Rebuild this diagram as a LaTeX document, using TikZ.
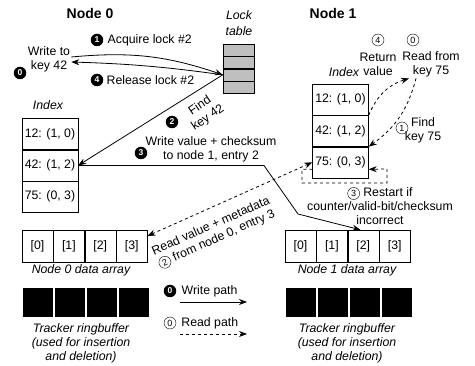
\documentclass[tikz,border=0pt]{standalone}
\usepackage{fontspec}
\setmainfont{Liberation Sans}
\usetikzlibrary{
	positioning,
	arrows.meta
}

% small outlined number inside a line of text
\newcommand\circnum[1]{\tikz[baseline=(cn.base)]\node[circle, draw, inner sep=0pt, minimum size=12pt, font=\fontsize{9}{9}\selectfont] (cn) {#1};}

\begin{document}
\begin{tikzpicture}[
	x=1pt, y=1pt,
	node distance =0pt,
	every node/.style = {inner sep=1pt, font=\fontsize{12.3}{14}\selectfont},
	title/.style = {font=\fontsize{14}{16}\selectfont\bfseries},
	note/.style = {align=center},
	lbl/.style = {align=center, font=\fontsize{12.3}{14}\selectfont\itshape},
	idxbox/.style = {
		rectangle,
		draw,
		minimum width=56pt,
		minimum height=31pt
	},
	cell/.style = {rectangle, draw, minimum width=31pt, minimum height=32pt},
	lockcell/.style = {rectangle, draw, fill=black!25, minimum width=31pt, minimum height=12pt},
	ringcell/.style = {rectangle, draw=white, line width=1pt, fill=black, minimum width=31pt, minimum height=30pt},
	wnum/.style = {circle, fill=black, text=white, inner sep=0pt, minimum size=12.5pt, font=\fontsize{8.5}{8.5}\selectfont\bfseries},
	rnum/.style = {circle, draw, inner sep=0pt, minimum size=12pt, font=\fontsize{9}{9}\selectfont},
	wline/.style = {line width=0.8pt, -{Stealth[length=8pt,width=6pt]}},
	rline/.style = {wline, dashed},
]
	\useasboundingbox (0,0) rectangle (475,-366);

	\node (node0) [title] at (90,-13) {Node 0};
	\node (node1) [title] at (333,-13) {Node 1};

	% lock table
	\node (locklbl) [lbl] at (239,-23) {Lock\\[2pt]table};
	\node (lock1) [lockcell] at (238.5,-50) {};
	\node (lock2) [lockcell, below=of lock1] {};
	\node (lock3) [lockcell, below=of lock2] {};
	\node (lock4) [lockcell, below=of lock3] {};

	% node 0 index
	\node (idx0lbl) [lbl] at (48,-105) {Index};
	\node (idx0a) [idxbox] at (50,-134) {12: (1, 0)};
	\node (idx0b) [idxbox, below=of idx0a] {42: (1, 2)};
	\node (idx0c) [idxbox, below=of idx0b] {75: (0, 3)};

	% node 1 index
	\node (idx1lbl) [lbl] at (344,-72) {Index};
	\node (idx1a) [idxbox] at (340.5,-99.5) {12: (1, 0)};
	\node (idx1b) [idxbox, below=of idx1a] {42: (1, 2)};
	\node (idx1c) [idxbox, below=of idx1b] {75: (0, 3)};

	% data arrays
	\node (arr0a) [cell] at (37.5,-246) {[0]};
	\node (arr0b) [cell, right=of arr0a] {[1]};
	\node (arr0c) [cell, right=of arr0b] {[2]};
	\node (arr0d) [cell, right=of arr0c] {[3]};
	\node (arr0lbl) [lbl] at (81,-270) {Node 0 data array};

	\node (arr1a) [cell] at (300.5,-246) {[0]};
	\node (arr1b) [cell, right=of arr1a] {[1]};
	\node (arr1c) [cell, right=of arr1b] {[2]};
	\node (arr1d) [cell, right=of arr1c] {[3]};
	\node (arr1lbl) [lbl] at (347,-270) {Node 1 data array};

	% tracker ringbuffers
	\node (ring0a) [ringcell] at (37.5,-303) {};
	\node (ring0b) [ringcell, right=of ring0a] {};
	\node (ring0c) [ringcell, right=of ring0b] {};
	\node (ring0d) [ringcell, right=of ring0c] {};
	\node (ring0lbl) [lbl] at (81,-343) {Tracker ringbuffer\\(used for insertion\\and deletion)};

	\node (ring1a) [ringcell] at (300.5,-303) {};
	\node (ring1b) [ringcell, right=of ring1a] {};
	\node (ring1c) [ringcell, right=of ring1b] {};
	\node (ring1d) [ringcell, right=of ring1c] {};
	\node (ring1lbl) [lbl] at (347,-343) {Tracker ringbuffer\\(used for insertion\\and deletion)};

	% write path
	\node (write) [note] at (49,-59) {Write to\\key 42};
	\node (w0) [wnum] at (20,-73) {0};
	\node (w1) [wnum] at (97,-40) {1};
	\node (acquire) [right=3pt of w1] {Acquire lock \#2};
	\node (w4) [wnum] at (97,-80) {4};
	\node (release) [right=2pt of w4] {Release lock \#2};

	\draw[wline] ([yshift=2pt]write.east) to[bend left=12] (lock3.west);
	\draw[wline] (lock3.west) to[bend right=3] ([yshift=-3pt]write.east);

	\draw[wline] (lock3.west) -- (idx0b.east);
	\node (find42) [note, rotate=34] at (204,-112) {Find\\key 42};
	\node (w2) [wnum] at (172,-122) {2};

	\coordinate (wb1) at (264,-165.5);
	\coordinate (wb2) at (298,-214);
	\draw[wline] (idx0b.east) -- (wb1) -- (wb2) -- (arr1c.100);
	\node (w3) [wnum] at (141,-153) {3};
	\node (wrval) [note] at (211,-149.5) {Write value + checksum\\to node 1, entry 2};

	% read path
	\node (r4) [rnum] at (378,-40) {4};
	\node (retval) [note] at (378,-64.5) {Return\\value};
	\node (r0) [rnum] at (413,-40) {0};
	\node (readfrom) [note] at (431,-64.5) {Read from\\key 75};

	\draw[rline] (idx1a.south east) to[bend left=25] ([xshift=-22pt]readfrom.south);
	\draw[rline] ([xshift=-15pt]readfrom.south) to[bend left=20] (idx1b.south east);
	\node (r1) [rnum] at (402,-128) {1};
	\node (find75) [note] at (423,-130) {Find\\key 75};

	\draw[rline, {Stealth[length=8pt,width=6pt]}-{Stealth[length=8pt,width=6pt]}] ([yshift=10pt]arr0d.east) -- (idx1c.west);
	\node (rdval) [note, rotate=24] at (214,-233) {Read value + metadata\\\circnum{2} from node 0, entry 3};

	\coordinate (rst1) at (302,-183);
	\coordinate (rst2) at (387,-169);
	\draw[rline] ([yshift=-7pt]idx1c.west) -| (rst1) -| (rst2) -- ([yshift=-7pt]idx1c.east);
	\node (restart) [note] at (380,-206) {\circnum{3} Restart if\\counter/valid-bit/checksum\\incorrect};

	% legend
	\node (legw) [wnum] at (170,-291) {0};
	\node (legwtxt) [right=4pt of legw] {Write path};
	\coordinate (legwa) at (180,-302);
	\coordinate (legwb) at (247,-302);
	\draw[wline] (legwa) -- (legwb);

	\node (legr) [rnum] at (170,-323) {0};
	\node (legrtxt) [right=4pt of legr] {Read path};
	\coordinate (legra) at (180,-334);
	\coordinate (legrb) at (247,-334);
	\draw[rline] (legra) -- (legrb);
\end{tikzpicture}
\end{document}
